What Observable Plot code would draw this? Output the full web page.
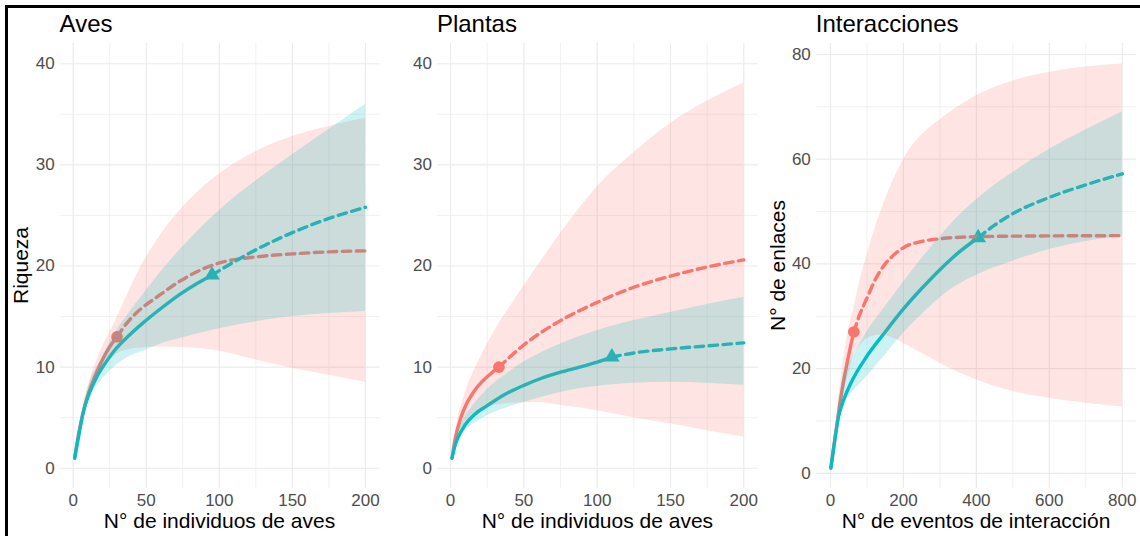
<!DOCTYPE html>
<html><head><meta charset="utf-8">
<script src="https://cdn.jsdelivr.net/npm/d3@7"></script>
<script src="https://cdn.jsdelivr.net/npm/@observablehq/plot@0.6"></script>
<style>
body{margin:0;background:#fff;}
#wrap{position:relative;width:1140px;height:536px;overflow:hidden;background:#fff;font-family:"Liberation Sans",Arial,sans-serif;}
.panel{position:absolute;top:0;}
#frame{position:absolute;left:5px;top:5px;width:1200px;height:600px;border-top:3px solid #000;border-left:3px solid #000;pointer-events:none;}
</style></head><body><div id="wrap"><div id="frame"></div></div><script>
const RED = "#F8766D", TEAL = "#00BFC4";

// Titles and axis labels
const panelTitles = ["Aves", "Plantas", "Interacciones"];
const xTitles = ["N° de individuos de aves", "N° de individuos de aves", "N° de eventos de interacción"];
const yTitles = ["Riqueza", null, "N° de enlaces"];

// Tick values
const xMajorA = [0, 50, 100, 150, 200];
const xMinorA = [25, 75, 125, 175];
const yMajorA = [0, 10, 20, 30, 40];
const yMinorA = [5, 15, 25, 35];
const xMajorI = [0, 200, 400, 600, 800];
const xMinorI = [100, 300, 500, 700];
const yMajorI = [0, 20, 40, 60, 80];
const yMinorI = [10, 30, 50, 70];

// ---- Aves ----
const avesRedInterp = [[1,1],[4,3.6],[8,6.2],[13,8.4],[17,9.8],[21,11.0],[25,12.0],[30,13]];
const avesRedExtrap = [[30,13],[37,14.4],[45,15.6],[57,16.9],[73,18.5],[87,19.6],[100,20.3],[125,20.9],[150,21.2],[175,21.4],[200,21.5]];
const avesRedRibbon = [[1,1,1],[5,4.2,4.9],[10,6.8,8.0],[15,8.4,10.2],[20,9.6,12.0],[25,10.6,13.4],[30,11.3,14.9],[37,11.7,17.1],[46,11.9,19.8],[60,12.0,23.1],[75,11.95,25.8],[100,11.6,29.1],[125,10.7,31.3],[150,9.9,32.8],[175,9.2,33.8],[200,8.5,34.6]];
const avesTealInterp = [[1,1],[4,3.4],[7,5.6],[11,7.4],[16,9.0],[22,10.4],[28,11.6],[38,13.1],[48,14.4],[60,15.8],[73,17.2],[85,18.3],[95,19.1]];
const avesTealExtrap = [[95,19.1],[110,20.4],[125,21.6],[150,23.3],[175,24.7],[200,25.8]];
const avesTealRibbon = [[1,1,1],[5,4.0,4.6],[10,6.5,7.8],[20,8.8,11.0],[28,10.0,13.2],[38,11.0,15.3],[48,11.6,17.2],[60,12.3,19.4],[75,12.9,21.9],[100,13.8,25.5],[125,14.5,28.4],[150,15.0,31.0],[175,15.3,33.5],[200,15.5,36.0]];
const avesRedObs = [30, 13];
const avesTealObs = [95, 19.1];

// ---- Plantas ----
const plantasRedInterp = [[1,1],[3,2.8],[7,5.0],[11,6.4],[16,7.6],[21,8.5],[27,9.3],[33,10]];
const plantasRedExtrap = [[33,10],[50,12.2],[75,14.6],[100,16.4],[125,17.9],[150,19.0],[175,19.9],[200,20.6]];
const plantasRedRibbon = [[1,1,1],[5,3.3,4.8],[10,4.3,7.4],[20,5.7,10.8],[27,6.1,12.8],[33,6.3,14.3],[43,6.45,16.5],[58,6.5,19.7],[76,6.2,23.4],[100,5.7,27.8],[125,5.0,31.2],[150,4.4,34.1],[175,3.7,36.3],[200,3.1,38.1]];
const plantasTealInterp = [[1,1],[3,2.2],[5,3.0],[10,4.3],[17,5.4],[25,6.2],[37,7.3],[50,8.2],[62,8.9],[75,9.5],[88,10.0],[100,10.5],[110,11]];
const plantasTealExtrap = [[110,11],[125,11.4],[150,11.8],[175,12.1],[200,12.4]];
const plantasTealRibbon = [[1,1,1],[5,2.7,3.6],[10,3.7,5.1],[17,4.5,6.5],[25,5.2,7.8],[37,5.9,9.2],[50,6.5,10.5],[75,7.5,12.3],[100,8.1,13.6],[125,8.4,14.6],[150,8.5,15.4],[175,8.4,16.2],[200,8.2,16.9]];
const plantasRedObs = [33, 10];
const plantasTealObs = [110, 11];

// ---- Interacciones ----
const interRedInterp = [[1,1],[10,5.6],[20,10.4],[27,13.9],[38,18.4],[50,22.6],[64,27]];
const interRedExtrap = [[64,27],[80,30.3],[100,33.5],[125,37.3],[150,40],[175,41.8],[200,43.1],[250,44.3],[300,44.8],[400,45.2],[500,45.3],[600,45.35],[800,45.4]];
const interRedRibbon = [[1,1,1],[10,5,7],[20,9.5,13],[36.6,15.5,22],[50,19,27.5],[64,22.5,31.5],[80,24.3,36.5],[105,25.9,42.8],[137,26.4,49.8],[174,25.8,56.2],[201,24.8,60.0],[225,23.9,62.6],[250,23,64.6],[301.7,21.0,67.6],[402.6,17.8,72.2],[503,15.6,75.0],[603,14.3,76.6],[700,13.4,77.6],[800,12.7,78.2]];
const interTealInterp = [[1,1],[10,5.5],[22,10.8],[35,13.8],[55,17.1],[100,22.4],[150,27.0],[200,31.4],[250,35.3],[300,38.9],[350,42.1],[405,45]];
const interTealExtrap = [[405,45],[450,47.4],[500,49.6],[600,52.7],[700,55.1],[800,57.2]];
const interTealRibbon = [[1,1,1],[10,4.5,6.5],[22,9,13],[36.6,13,19],[55,15.0,21.5],[100,18.5,27.0],[150,22.6,31.8],[201,26.8,36.6],[250,30.3,41.0],[301.7,33.6,45.3],[350,36.0,49.0],[402.6,37.9,52.4],[503,40.6,57.6],[603,42.8,62],[700,44.3,65.6],[800,45.2,69]];
const interRedObs = [64, 27];
const interTealObs = [405, 45];

const toXY = a => a.map(([x, y]) => ({x, y}));
const toRib = a => a.map(([x, lo, hi]) => ({x, lo, hi}));

function makePanel(cfg) {
  const lw = 3.4;
  const dash = "8.5,5.5";
  const plot = Plot.plot({
    width: 380, height: 536,
    marginTop: 43, marginBottom: 48, marginLeft: cfg.mL, marginRight: cfg.mR,
    x: {domain: cfg.xDomain, ticks: cfg.xMajor, tickSize: 0, tickPadding: 5, label: null},
    y: {domain: cfg.yDomain, ticks: cfg.yMajor, tickSize: 0, tickPadding: 5.5, label: null},
    style: {fontFamily: '"Liberation Sans", Arial, sans-serif', fontSize: "17px", color: "#4D4D4D", background: "transparent", overflow: "visible"},
    marks: [
      Plot.ruleX(cfg.xMinor, {stroke: "#EBEBEB", strokeWidth: 0.7}),
      Plot.ruleY(cfg.yMinor, {stroke: "#EBEBEB", strokeWidth: 0.7}),
      Plot.ruleX(cfg.xMajor, {stroke: "#EBEBEB", strokeWidth: 1.2}),
      Plot.ruleY(cfg.yMajor, {stroke: "#EBEBEB", strokeWidth: 1.2}),
      Plot.dot([cfg.redObs], {x: d => d[0], y: d => d[1], r: 5.8, fill: RED, symbol: "circle"}),
      Plot.dot([cfg.tealObs], {x: d => d[0], y: d => d[1], r: 5.8, fill: TEAL, symbol: "triangle"}),
      Plot.line(toXY(cfg.redInterp), {x: "x", y: "y", stroke: RED, strokeWidth: lw, curve: "monotone-x"}),
      Plot.line(toXY(cfg.tealInterp), {x: "x", y: "y", stroke: TEAL, strokeWidth: lw, curve: "monotone-x"}),
      Plot.line(toXY(cfg.redExtrap), {x: "x", y: "y", stroke: RED, strokeWidth: lw, strokeDasharray: dash, curve: "monotone-x"}),
      Plot.line(toXY(cfg.tealExtrap), {x: "x", y: "y", stroke: TEAL, strokeWidth: lw, strokeDasharray: dash, curve: "monotone-x"}),
      Plot.areaY(toRib(cfg.redRib), {x: "x", y1: "lo", y2: "hi", fill: RED, fillOpacity: 0.2, curve: "monotone-x"}),
      Plot.areaY(toRib(cfg.tealRib), {x: "x", y1: "lo", y2: "hi", fill: TEAL, fillOpacity: 0.2, curve: "monotone-x"})
    ]
  });
  const svg = d3.select(plot);
  const left = cfg.mL, right = 380 - cfg.mR;
  svg.append("text").attr("x", left).attr("y", 32).attr("fill", "#000")
    .style("font-size", "24px").attr("text-anchor", "start").text(cfg.title);
  svg.append("text").attr("x", (left + right) / 2).attr("y", 528).attr("fill", "#000")
    .style("font-size", "21px").attr("text-anchor", "middle").text(cfg.xTitle);
  if (cfg.yTitle) {
    svg.append("text").attr("transform", `translate(${cfg.yTitleX},265.5) rotate(-90)`).attr("fill", "#000")
      .style("font-size", "21px").attr("text-anchor", "middle").text(cfg.yTitle);
  }
  const div = document.createElement("div");
  div.className = "panel";
  div.style.left = cfg.offset + "px";
  div.appendChild(plot);
  document.getElementById("wrap").insertBefore(div, document.getElementById("frame"));
}

makePanel({offset: 0, mL: 59.6, mR: 0.5, xDomain: [-8.95, 209.95], yDomain: [-2, 42],
  xMajor: xMajorA, xMinor: xMinorA, yMajor: yMajorA, yMinor: yMinorA,
  redInterp: avesRedInterp, redExtrap: avesRedExtrap, redRib: avesRedRibbon,
  tealInterp: avesTealInterp, tealExtrap: avesTealExtrap, tealRib: avesTealRibbon,
  redObs: avesRedObs, tealObs: avesTealObs,
  title: panelTitles[0], xTitle: xTitles[0], yTitle: yTitles[0], yTitleX: 28});

makePanel({offset: 380, mL: 56.9, mR: 2.1, xDomain: [-8.95, 209.95], yDomain: [-2, 42],
  xMajor: xMajorA, xMinor: xMinorA, yMajor: yMajorA, yMinor: yMinorA,
  redInterp: plantasRedInterp, redExtrap: plantasRedExtrap, redRib: plantasRedRibbon,
  tealInterp: plantasTealInterp, tealExtrap: plantasTealExtrap, tealRib: plantasTealRibbon,
  redObs: plantasRedObs, tealObs: plantasTealObs,
  title: panelTitles[1], xTitle: xTitles[1], yTitle: yTitles[1]});

makePanel({offset: 760, mL: 55.8, mR: 3.7, xDomain: [-38.95, 839.95], yDomain: [-2.9, 82.1],
  xMajor: xMajorI, xMinor: xMinorI, yMajor: yMajorI, yMinor: yMinorI,
  redInterp: interRedInterp, redExtrap: interRedExtrap, redRib: interRedRibbon,
  tealInterp: interTealInterp, tealExtrap: interTealExtrap, tealRib: interTealRibbon,
  redObs: interRedObs, tealObs: interTealObs,
  title: panelTitles[2], xTitle: xTitles[2], yTitle: yTitles[2], yTitleX: 25});
</script></body></html>
